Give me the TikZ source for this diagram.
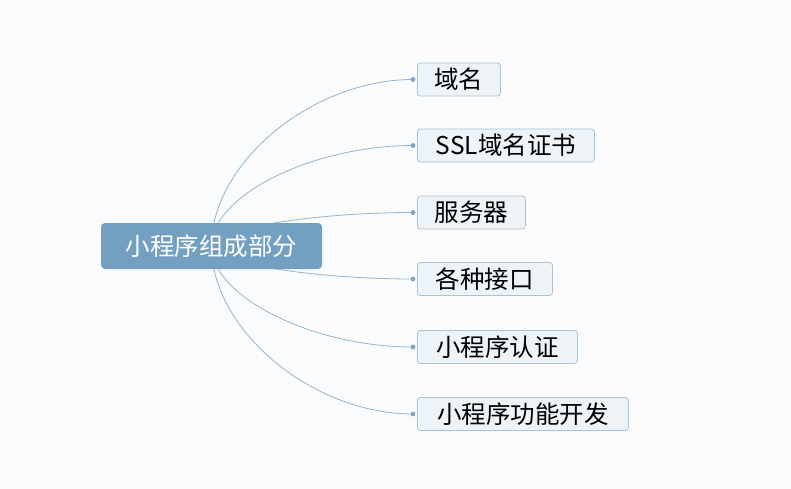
\documentclass[tikz,border=0pt]{standalone}
\usepackage{fontspec}
\setmainfont{Noto Sans CJK SC}
\usetikzlibrary{backgrounds,calc}
\definecolor{bgcol}{HTML}{FAFBFC}
\definecolor{rootblue}{HTML}{739FC0}
\definecolor{leaffill}{HTML}{EEF3F8}
\definecolor{leafborder}{HTML}{A8C3D8}
\definecolor{linkblue}{HTML}{93B4CE}
\definecolor{dotblue}{HTML}{7FA5C4}
\begin{document}
\begin{tikzpicture}[x=1pt,y=-1pt,
  rootbox/.style={fill=rootblue, rounded corners=4pt, minimum width=221pt, minimum height=46pt,
    text=white, font=\fontsize{24.5}{28}\selectfont, inner sep=0pt},
  leaf/.style={draw=leafborder, fill=leaffill, rounded corners=3pt, line width=0.8pt,
    minimum height=33pt, anchor=west, inner sep=0pt, text=black,
    font=\fontsize{24.5}{28}\selectfont},
  link/.style={draw=linkblue, line width=0.8pt},
  enddot/.style={fill=dotblue}
]
\useasboundingbox (0,0) rectangle (791,489);
\node[rootbox] (root) at (211.5,246) {小程序组成部分};
\node[leaf, minimum width=83pt] (l1) at (417,79.5) {域名};
\node[leaf, minimum width=177pt] (l2) at (417,145.5) {SSL域名证书};
\node[leaf, minimum width=108pt] (l3) at (417,212.5) {服务器};
\node[leaf, minimum width=135pt] (l4) at (417,279) {各种接口};
\node[leaf, minimum width=160pt] (l5) at (417,347) {小程序认证};
\node[leaf, minimum width=211pt] (l6) at (417,414) {小程序功能开发};
\foreach \i in {1,...,6} {
  \coordinate (d\i) at ([xshift=-4pt]l\i.west);
  \coordinate (m\i) at ($(root.center)!0.5!(d\i)$);
}
\begin{scope}[on background layer]
  \fill[bgcol] (0,0) rectangle (791,489);
  \foreach \i in {1,...,6} {
    \draw[link] (root.center) .. controls (root.center |- m\i) and (m\i |- d\i) .. (d\i);
    \fill[enddot] (d\i) circle (2.4pt);
  }
\end{scope}
\end{tikzpicture}
\end{document}
